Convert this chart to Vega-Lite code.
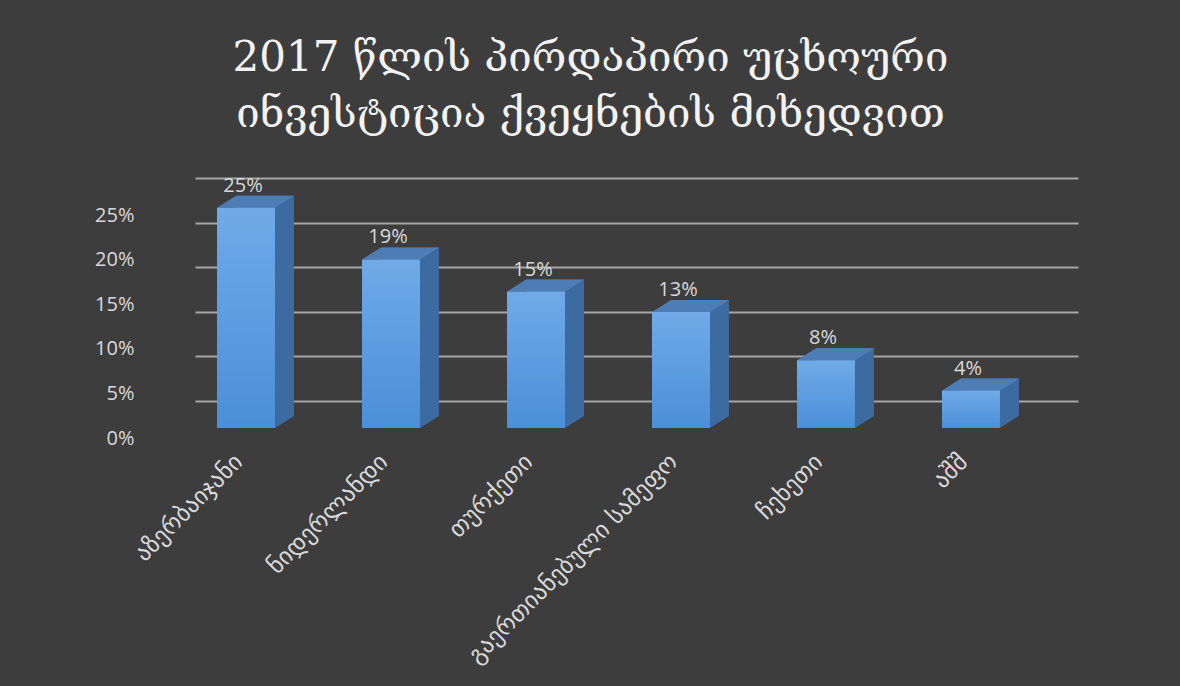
{
  "$schema": "https://vega.github.io/schema/vega-lite/v6.json",
  "autosize": {"type": "none"},
  "width": 883,
  "height": 223,
  "padding": {"left": 195, "top": 205, "right": 102, "bottom": 258},
  "background": "#3d3d3d",
  "title": {
    "text": ["2017 წლის პირდაპირი უცხოური", "ინვესტიცია ქვეყნების მიხედვით"],
    "font": "DejaVu Serif",
    "fontSize": 42,
    "fontWeight": "normal",
    "color": "#f2f2f2",
    "lineHeight": 56,
    "anchor": "middle",
    "frame": "group",
    "dx": -46,
    "offset": 40
  },
  "data": {
    "values": [
      {"country": "აზერბაიჯანი", "share": 0.247},
      {"country": "ნიდერლანდი", "share": 0.189},
      {"country": "თურქეთი", "share": 0.153},
      {"country": "გაერთიანებული სამეფო", "share": 0.13},
      {"country": "ჩეხეთი", "share": 0.076},
      {"country": "აშშ", "share": 0.042}
    ]
  },
  "encoding": {
    "x": {
      "field": "country",
      "type": "nominal",
      "sort": null,
      "scale": {"paddingInner": 0.6, "paddingOuter": 0.345, "align": 0.22},
      "axis": {
        "title": null,
        "labelAngle": -45,
        "labelAlign": "right",
        "labelBaseline": "middle",
        "labelFont": "DejaVu Sans",
        "labelFontSize": 24,
        "labelColor": "#d9d9d9",
        "labelPadding": 30,
        "labelOffset": -7,
        "labelLimit": 400,
        "domain": false,
        "ticks": false,
        "grid": false
      }
    },
    "y": {
      "field": "share",
      "type": "quantitative",
      "scale": {"domain": [0, 0.25], "nice": false},
      "axis": {
        "title": null,
        "values": [0, 0.05, 0.1, 0.15, 0.2, 0.25],
        "format": ".0%",
        "grid": true,
        "gridColor": "#a6a6a6",
        "gridWidth": 2,
        "tickOffset": -27,
        "labelOffset": 37,
        "labelPadding": 61,
        "labelFont": "Open Sans",
        "labelFontSize": 20,
        "labelColor": "#d9d9d9",
        "domain": false,
        "ticks": false
      }
    }
  },
  "layer": [
    {
      "mark": {"type": "bar", "color": "#3c6ba2", "xOffset": 19, "x2Offset": 19, "yOffset": -12, "y2Offset": -12}
    },
    {
      "mark": {"type": "point", "shape": "M1,0L1.655,-0.414L1,-0.414Z", "size": 3364, "filled": true, "opacity": 1, "color": "#3c6ba2", "strokeWidth": 0},
      "encoding": {"y": {"datum": 0, "type": "quantitative"}}
    },
    {
      "mark": {"type": "point", "shape": "M-1,0L1,0L1.655,-0.414L-0.345,-0.414Z", "size": 3364, "filled": true, "opacity": 1, "color": "#4e7db6", "strokeWidth": 0}
    },
    {
      "mark": {
        "type": "bar",
        "color": {
          "gradient": "linear",
          "x1": 0, "y1": 0, "x2": 0, "y2": 1,
          "stops": [
            {"offset": 0, "color": "#70aae8"},
            {"offset": 1, "color": "#4a8fd8"}
          ]
        }
      }
    },
    {
      "mark": {"type": "text", "baseline": "alphabetic", "dy": -16, "dx": -3, "font": "Open Sans", "fontSize": 20, "color": "#d9d9d9"},
      "encoding": {"text": {"field": "share", "type": "quantitative", "format": ".0%"}}
    }
  ],
  "config": {"view": {"stroke": null}}
}
